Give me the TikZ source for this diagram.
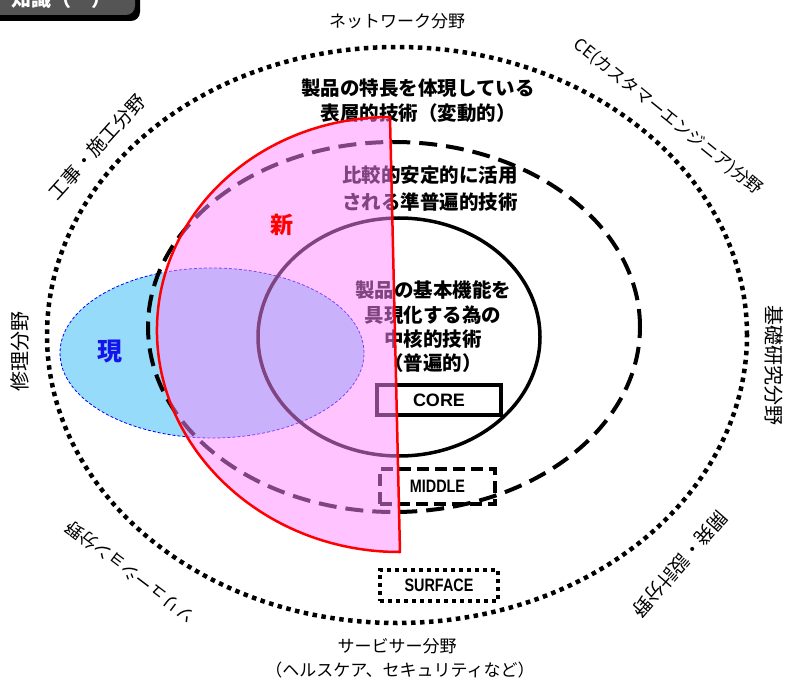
\documentclass[tikz,border=0pt]{standalone}
\usepackage{fontspec}
\setmainfont{Liberation Sans}
\newfontfamily\jp{Noto Sans CJK JP}
\definecolor{pinkfill}{RGB}{255,136,255}
\definecolor{bluefill}{RGB}{150,220,250}
\definecolor{boxgray}{RGB}{85,85,85}
\definecolor{genblue}{RGB}{20,20,235}
\begin{document}
\begin{tikzpicture}[x=1pt,y=-1pt,
  field/.style={font=\jp\fontsize{17}{20}\selectfont, inner sep=0pt},
  bigfield/.style={font=\jp\fontsize{20}{22}\selectfont, inner sep=0pt},
  tech/.style={font=\jp\bfseries\fontsize{19.5}{25}\selectfont, align=center, inner sep=0pt},
  dotline/.style={line width=4.5pt, dash pattern=on 4.5pt off 4.5pt},
  dashline/.style={line width=4pt, dash pattern=on 18pt off 9pt},
  boxdash/.style={line width=3.5pt, dash pattern=on 12pt off 6pt},
  boxdot/.style={line width=4pt, dash pattern=on 4pt off 4pt},
  solidline/.style={line width=3.5pt},
  boxlabel/.style={font=\bfseries\fontsize{18}{18}\selectfont, inner sep=0pt}
]
\useasboundingbox (0,0) rectangle (785,682);

% title tab (cut off at top)
\fill[black, rounded corners=9pt] (-30,-30) rectangle (140,21);
\fill[boxgray, rounded corners=9pt] (-30,-30) rectangle (135,15);
\node[font=\jp\bfseries\fontsize{20}{20}\selectfont, text=white, anchor=east, inner sep=0pt] (title) at (112,-1) {知識（　）};

% outer field ellipse
\draw[dotline] (397,335) ellipse[x radius=350pt, y radius=288pt];

% current (blue) ellipse
\draw[blue, densely dashed, line width=0.8pt, fill=bluefill] (212,353) ellipse[x radius=152pt, y radius=85pt];

% middle & core ellipses
\draw[dashline] (394,327) ellipse[x radius=246pt, y radius=185pt];
\draw[solidline] (399,337) ellipse[x radius=141pt, y radius=119pt];

% boxes
\node[draw, solidline, minimum width=124pt, minimum height=30pt, boxlabel] (core) at (439,400) {CORE};
\node[draw, boxdash, minimum width=115pt, minimum height=35pt, boxlabel] (middle) at (437.5,486.5) {\scalebox{0.8}[1]{MIDDLE}};
\node[draw, boxdot, minimum width=118pt, minimum height=31pt, boxlabel] (surface) at (439,585.5) {\scalebox{0.8}[1]{SURFACE}};

% technology labels
\node[tech] (surfT) at (418,100.5) {製品の特長を体現している\\表層的技術（変動的）};
\node[tech, font=\jp\bfseries\fontsize{19.5}{27}\selectfont] (midT) at (430,189) {比較的安定的に活用\\される準普遍的技術};
\node[tech, font=\jp\bfseries\fontsize{19.5}{24.3}\selectfont] (coreT) at (433,327) {製品の基本機能を\\具現化する為の\\中核的技術\\（普遍的）};

\node[font=\jp\bfseries\fontsize{25}{25}\selectfont, text=genblue, inner sep=0pt] (gen) at (110,352) {現};

% new (pink) half-disc
\coordinate (T) at (390,117);
\coordinate (B) at (400,552);
\coordinate (L) at (157,335);
\fill[pinkfill, fill opacity=0.5] (T) -- (B) .. controls (268.6,552.3) and (159.8,455.1) .. (L) .. controls (154.2,214.9) and (258.6,117.3) .. (T) -- cycle;
\draw[red, line width=2.5pt, line join=round] (T) -- (B) .. controls (268.6,552.3) and (159.8,455.1) .. (L) .. controls (154.2,214.9) and (258.6,117.3) .. (T) -- cycle;
\node[font=\jp\bfseries\fontsize{23}{23}\selectfont, text=red, inner sep=0pt] (shin) at (282,225) {新};

% field labels
\node[field] (net) at (397,21) {ネットワーク分野};
\node[field, rotate=-39] (ce) at (668,117) {CE(カスタマーエンジニア)分野};
\node[bigfield, font=\jp\fontsize{19}{22}\selectfont, rotate=48] (koji) at (97,147) {工事・施工分野};
\node[bigfield, rotate=90] (shuri) at (20,351) {修理分野};
\node[bigfield, rotate=-90] (kiso) at (774,365) {基礎研究分野};
\node[field, font=\jp\fontsize{17.5}{20}\selectfont, rotate=143] (sol) at (130,572) {ソリューション分野};
\node[bigfield, font=\jp\fontsize{19}{22}\selectfont, rotate=-131] (kai) at (680,564) {開発・設計分野};
\node[field] (serv) at (397,646) {サービサー分野};
\node[field] (serv2) at (400,670) {（ヘルスケア、セキュリティなど）};
\end{tikzpicture}
\end{document}
